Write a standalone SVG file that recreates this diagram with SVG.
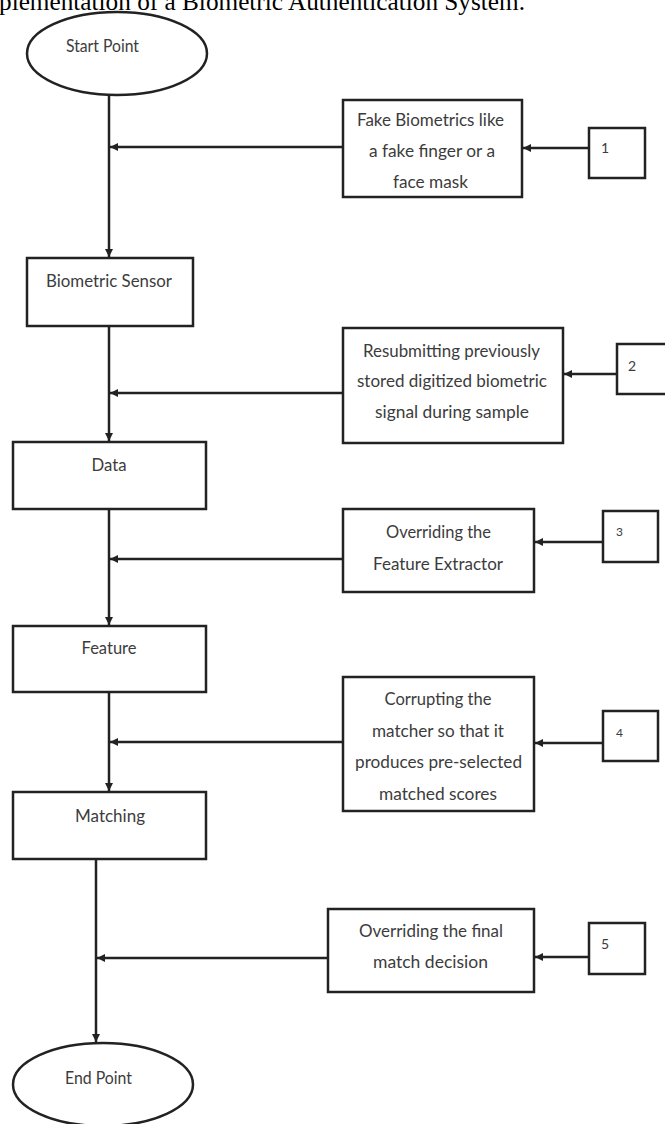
<svg xmlns="http://www.w3.org/2000/svg" width="665" height="1124" viewBox="0 0 665 1124">
<defs>
<style>
.shape{fill:#fff;stroke:#222;stroke-width:2.5}
.conn{fill:none;stroke:#222;stroke-width:2.5}
.t{font-family:Lato,"Liberation Sans",sans-serif;font-size:17px;fill:#3c3c3c;text-anchor:middle}
.n{font-family:Lato,"Liberation Sans",sans-serif;font-size:14px;fill:#3c3c3c}
.title{font-family:"Liberation Serif",serif;font-size:25px;fill:#000}
</style>
<marker id="ah" markerUnits="userSpaceOnUse" markerWidth="10" markerHeight="10" refX="8" refY="5" orient="auto">
<path d="M0,1 L8,5 L0,9 Z" fill="#222"/>
</marker>
</defs>
<rect width="665" height="1124" fill="#fff"/>
<text class="title" x="-1" y="10" textLength="526" lengthAdjust="spacingAndGlyphs">plementation of a Biometric Authentication System.</text>

<g id="connectors">
<line class="conn" x1="109" y1="95" x2="109" y2="257" marker-end="url(#ah)"/>
<line class="conn" x1="109" y1="326" x2="109" y2="441" marker-end="url(#ah)"/>
<line class="conn" x1="109" y1="509" x2="109" y2="625" marker-end="url(#ah)"/>
<line class="conn" x1="109" y1="692" x2="109" y2="791" marker-end="url(#ah)"/>
<line class="conn" x1="96" y1="859" x2="96" y2="1042" marker-end="url(#ah)"/>
<line class="conn" x1="343" y1="147" x2="110" y2="147" marker-end="url(#ah)"/>
<line class="conn" x1="343" y1="393" x2="110" y2="393" marker-end="url(#ah)"/>
<line class="conn" x1="343" y1="559" x2="110" y2="559" marker-end="url(#ah)"/>
<line class="conn" x1="343" y1="742" x2="110" y2="742" marker-end="url(#ah)"/>
<line class="conn" x1="328" y1="958" x2="97" y2="958" marker-end="url(#ah)"/>
<line class="conn" x1="589" y1="148" x2="523" y2="148" marker-end="url(#ah)"/>
<line class="conn" x1="617" y1="374" x2="564" y2="374" marker-end="url(#ah)"/>
<line class="conn" x1="603" y1="542" x2="535" y2="542" marker-end="url(#ah)"/>
<line class="conn" x1="603" y1="743" x2="535" y2="743" marker-end="url(#ah)"/>
<line class="conn" x1="589" y1="957" x2="535" y2="957" marker-end="url(#ah)"/>
</g>

<g id="start">
<ellipse class="shape" cx="117" cy="53.5" rx="90" ry="41.5"/>
<text class="t" x="102.5" y="52" textLength="73" lengthAdjust="spacingAndGlyphs">Start Point</text>
</g>
<g id="sensor">
<rect class="shape" x="27" y="258" width="166" height="68"/>
<text class="t" x="109" y="287" textLength="126" lengthAdjust="spacingAndGlyphs">Biometric Sensor</text>
</g>
<g id="data">
<rect class="shape" x="13" y="442" width="193" height="67"/>
<text class="t" x="109" y="471" textLength="35" lengthAdjust="spacingAndGlyphs">Data</text>
</g>
<g id="feature">
<rect class="shape" x="13" y="626" width="193" height="66"/>
<text class="t" x="109" y="654" textLength="55" lengthAdjust="spacingAndGlyphs">Feature</text>
</g>
<g id="matching">
<rect class="shape" x="13" y="792" width="193" height="67"/>
<text class="t" x="110" y="822" textLength="70" lengthAdjust="spacingAndGlyphs">Matching</text>
</g>
<g id="end">
<ellipse class="shape" cx="103" cy="1084.5" rx="90" ry="41.5"/>
<text class="t" x="98.5" y="1084" textLength="67" lengthAdjust="spacingAndGlyphs">End Point</text>
</g>

<g id="attack1">
<rect class="shape" x="343" y="100" width="179" height="97"/>
<text class="t" x="430.5" y="126" textLength="147" lengthAdjust="spacingAndGlyphs">Fake Biometrics like</text>
<text class="t" x="432" y="157" textLength="126" lengthAdjust="spacingAndGlyphs">a fake finger or a</text>
<text class="t" x="430.5" y="188" textLength="75" lengthAdjust="spacingAndGlyphs">face mask</text>
</g>
<g id="num1">
<rect class="shape" x="589" y="128" width="56" height="50"/>
<text class="n" x="601" y="153">1</text>
</g>

<g id="attack2">
<rect class="shape" x="343" y="328" width="220" height="115"/>
<text class="t" x="451.5" y="357" textLength="177" lengthAdjust="spacingAndGlyphs">Resubmitting previously</text>
<text class="t" x="452" y="387" textLength="190" lengthAdjust="spacingAndGlyphs">stored digitized biometric</text>
<text class="t" x="452" y="418" textLength="154" lengthAdjust="spacingAndGlyphs">signal during sample</text>
</g>
<g id="num2">
<rect class="shape" x="617" y="344" width="56" height="50"/>
<text class="n" x="628" y="371">2</text>
</g>

<g id="attack3">
<rect class="shape" x="343" y="509" width="191" height="83"/>
<text class="t" x="438.5" y="538" textLength="105" lengthAdjust="spacingAndGlyphs">Overriding the</text>
<text class="t" x="438" y="570" textLength="130" lengthAdjust="spacingAndGlyphs">Feature Extractor</text>
</g>
<g id="num3">
<rect class="shape" x="603" y="511" width="55" height="51"/>
<text class="n" x="616" y="536" style="font-size:12px">3</text>
</g>

<g id="attack4">
<rect class="shape" x="343" y="677" width="191" height="134"/>
<text class="t" x="438" y="705" textLength="107" lengthAdjust="spacingAndGlyphs">Corrupting the</text>
<text class="t" x="438" y="737" textLength="132" lengthAdjust="spacingAndGlyphs">matcher so that it</text>
<text class="t" x="438.5" y="768" textLength="167" lengthAdjust="spacingAndGlyphs">produces pre-selected</text>
<text class="t" x="438" y="800" textLength="118" lengthAdjust="spacingAndGlyphs">matched scores</text>
</g>
<g id="num4">
<rect class="shape" x="603" y="711" width="55" height="50"/>
<text class="n" x="616" y="737" style="font-size:12px">4</text>
</g>

<g id="attack5">
<rect class="shape" x="328" y="909" width="206" height="83"/>
<text class="t" x="431" y="937" textLength="144" lengthAdjust="spacingAndGlyphs">Overriding the final</text>
<text class="t" x="430.5" y="968" textLength="115" lengthAdjust="spacingAndGlyphs">match decision</text>
</g>
<g id="num5">
<rect class="shape" x="589" y="923" width="56" height="51"/>
<text class="n" x="601" y="949">5</text>
</g>
</svg>
